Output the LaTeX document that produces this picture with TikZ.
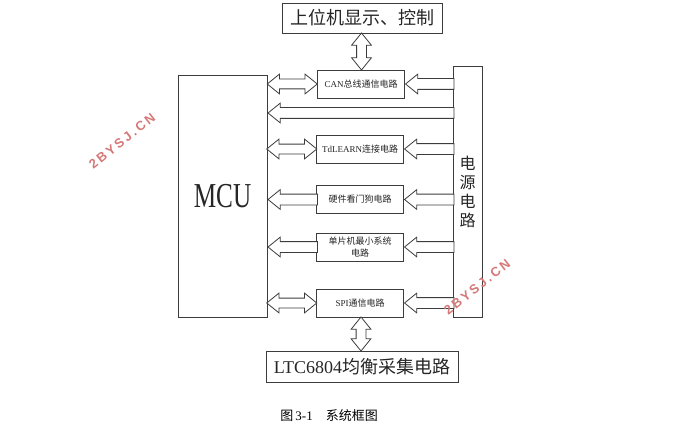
\documentclass[tikz,border=0pt]{standalone}
\usepackage{fontspec}
\setmainfont{Liberation Serif}
\newfontfamily\cjk{Noto Sans CJK SC}
\newfontfamily\wmfont[LetterSpace=18]{Liberation Sans}
\usetikzlibrary{shapes.arrows,calc}
\definecolor{ink}{RGB}{60,60,60}
\definecolor{stamp}{RGB}{214,120,120}

\begin{document}
\begin{tikzpicture}[x=1pt,y=-1pt,
          box/.style={draw=ink,line width=0.8pt,fill=white,inner sep=0pt,align=center,
                      font=\cjk\fontsize{9}{12}\selectfont,text=black!85},
          blk/.style={box,minimum width=87pt,minimum height=28pt},
          big/.style={box,font=\cjk\fontsize{18}{18}\selectfont},
          sarr/.style={single arrow,draw=ink,line width=0.8pt,fill=white,inner sep=5pt,
                       minimum width=19pt,single arrow head extend=4.5pt,single arrow tip angle=78,
                       shape border rotate=180,anchor=tip},
          darr/.style={double arrow,draw=ink,line width=0.8pt,fill=white,inner sep=4.5pt,
                       minimum width=19pt,double arrow head extend=5pt,double arrow tip angle=78},
          wm/.style={font=\wmfont\bfseries\fontsize{13}{13}\selectfont,text=stamp,rotate=38}
        ]
        \useasboundingbox (0,0) rectangle (690,441);
        \node[big,minimum width=160pt,minimum height=30pt] (host) at (362,18) {上位机显示、控制};
        \node[box,minimum width=89pt,minimum height=242pt] (mcu) at (222.5,196)
             {\rmfamily\fontsize{35}{35}\selectfont\scalebox{0.72}[1]{MCU}};
        \node[box,minimum width=29pt,minimum height=251pt,font=\cjk\fontsize{16}{19}\selectfont]
             (pwr) at (467.5,191.5) {电\\源\\电\\路};
        \node[blk] (can) at (361,84) {{\rmfamily CAN}总线通信电路};
        \node[blk] (tdl) at (360,149) {{\rmfamily TdLEARN}连接电路};
        \node[blk] (wdg) at (360,199.5) {硬件看门狗电路};
        \node[blk] (mini) at (360,247) {单片机最小系统\\电路};
        \node[blk] (spi) at (360,303) {{\rmfamily SPI}通信电路};
        \node[big,minimum width=192pt,minimum height=31pt] (ltc) at (362,366.5) {{\rmfamily LTC6804}均衡采集电路};
        \coordinate (rail) at (0,113);
        \foreach \b in {can,tdl,spi}
          \node[darr,minimum height=50pt] at ($(mcu.east|-\b)!.5!(\b.west)$) {};
        \foreach \b in {wdg,mini}
          \node[sarr,minimum height=49.5pt] at (mcu.east|-\b) {};
        \foreach \b/\l in {can/48.5,tdl/49.5,wdg/49.5,mini/49.5,spi/49.5}
          \node[sarr,minimum height=\l pt] at (\b.east) {};
        \node[sarr,minimum height=186pt] at (mcu.east|-rail) {};
        \node[darr,minimum height=37pt,shape border rotate=90] at ($(host.south)!.5!(can.north)$) {};
        \node[darr,minimum height=34pt,shape border rotate=90] at ($(spi.south)!.5!(ltc.north)$) {};
        \node[font=\cjk\fontsize{13}{13}\selectfont] (cap) at (329,416) {图\,{\rmfamily 3-1}\quad 系统框图};
        \node[wm] (wm1) at (122,141) {2BYSJ.CN};
        \node[wm] (wm2) at (477,287) {2BYSJ.CN};
      \end{tikzpicture}
\end{document}
